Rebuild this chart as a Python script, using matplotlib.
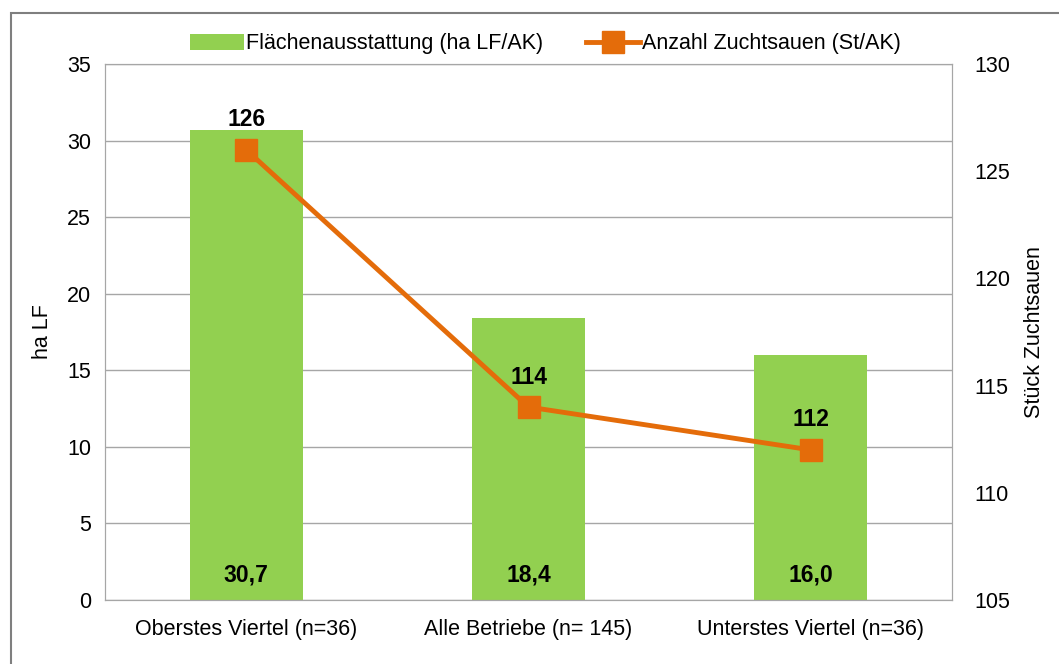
import numpy as np
import matplotlib.pyplot as plt
from matplotlib.patches import Rectangle

plt.rcParams['font.family'] = ['Liberation Sans', 'DejaVu Sans']

categories = ['Oberstes Viertel (n=36)', 'Alle Betriebe (n= 145)', 'Unterstes Viertel (n=36)']
flaeche = [30.7, 18.4, 16.0]
sauen = [126, 114, 112]

green = '#92D050'
orange = '#E46C0A'
grid_c = '#A6A6A6'
fs = 15.5

fig = plt.figure(figsize=(10.59, 6.64), dpi=100)
ax = fig.add_axes([105 / 1059, 1 - 600 / 664, 847 / 1059, 536 / 664])
ax2 = ax.twinx()

x = np.arange(len(categories))
bars = ax.bar(x, flaeche, width=0.40, color=green, zorder=2,
              label='Flächenausstattung (ha LF/AK)')
ax.set_xlim(-0.5, 2.5)
ax.set_ylim(0, 35)
ax.set_yticks(np.arange(0, 36, 5))
ax.yaxis.grid(True, color=grid_c, lw=1)
ax.set_axisbelow(True)
ax.set_xticks(x)
ax.set_xticklabels(categories)
ax.set_ylabel('ha LF', fontsize=fs, labelpad=10)

for xi, v in zip(x, flaeche):
    ax.text(xi, 1.6, f'{v:.1f}'.replace('.', ','), ha='center', va='center',
            fontsize=16.5, fontweight='bold', zorder=5)

line, = ax2.plot(x, sauen, color=orange, lw=3.5, marker='s', markersize=15.5,
                 zorder=4, label='Anzahl Zuchtsauen (St/AK)')
ax2.set_ylim(105, 130)
ax2.set_yticks(np.arange(105, 131, 5))
ax2.set_ylabel('Stück Zuchtsauen', fontsize=fs, labelpad=10)
for xi, v in zip(x, sauen):
    ax2.text(xi, v + 1.4, str(v), ha='center', va='center',
             fontsize=16.5, fontweight='bold')

for a in (ax, ax2):
    a.tick_params(length=0, labelsize=fs, pad=10)
    for s in a.spines.values():
        s.set_color(grid_c)
ax.tick_params(axis='x', pad=14)
ax2.tick_params(pad=16)

leg = fig.legend([bars, line], [bars.get_label(), line.get_label()],
                 loc='center', bbox_to_anchor=(0.515, 1 - 44 / 664), ncol=2,
                 frameon=False, fontsize=fs, handlelength=2.5,
                 handletextpad=0.1, columnspacing=2.0)

fig.patches.append(Rectangle((11 / 1059, -0.1), 1.2, 1 - 13 / 664 + 0.1,
                             transform=fig.transFigure, fill=False,
                             edgecolor='#7F7F7F', lw=1.5))

fig.savefig('out.png', dpi=100)
